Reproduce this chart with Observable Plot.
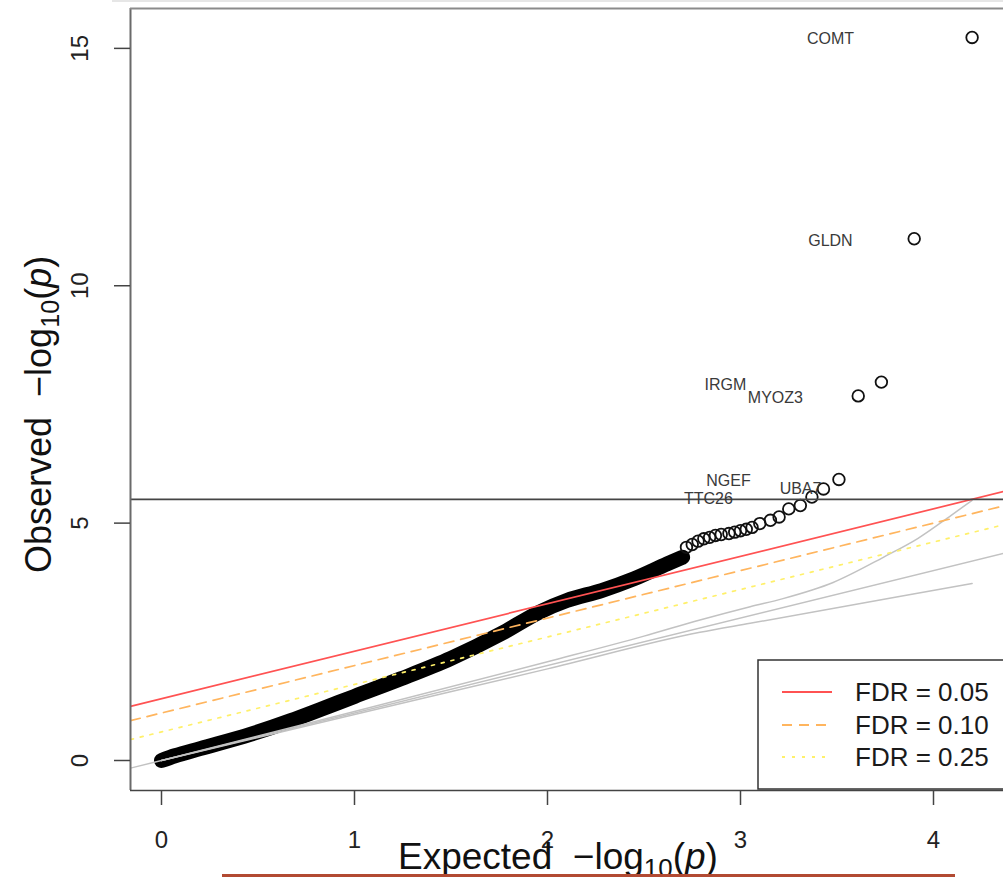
<!DOCTYPE html>
<html>
<head>
<meta charset="utf-8">
<script src="https://cdn.jsdelivr.net/npm/d3@7"></script>
<script src="https://cdn.jsdelivr.net/npm/@observablehq/plot@0.6"></script>
<style>
  html, body { margin: 0; padding: 0; background: #fff; }
  #wrap { position: relative; width: 1003px; height: 878px; overflow: hidden; background: #fff; }
  #wrap svg { display: block; }
  .topline { position: absolute; left: 112px; top: 0; width: 891px; height: 2px; background: #e6e6e6; }
  .bottomline { position: absolute; left: 222px; top: 874px; width: 733px; height: 3px; background: #b24a32; }
</style>
</head>
<body>
<div id="wrap"></div>
<script>
// ---------- data ----------
const xTicks = [0, 1, 2, 3, 4];
const yTicks = [0, 5, 10, 15];

// dense part of the QQ curve (overlapping points form a solid band)
const bandX = [0, 0.07, 0.20, 0.46, 0.67, 0.82, 1.00, 1.24, 1.50, 1.76, 1.96, 2.10, 2.28, 2.45, 2.62, 2.70];
const bandY = [0, 0.10, 0.25, 0.55, 0.84, 1.07, 1.35, 1.72, 2.15, 2.67, 3.13, 3.37, 3.58, 3.83, 4.14, 4.28];

// individually visible points in the tail
const tailX = [2.72, 2.75, 2.78, 2.81, 2.84, 2.87, 2.90, 2.94, 2.97, 3.00, 3.03, 3.06, 3.10, 3.155, 3.20, 3.25, 3.31, 3.37, 3.43, 3.51, 3.61, 3.73, 3.90, 4.20];
const tailY = [4.49, 4.55, 4.62, 4.67, 4.70, 4.74, 4.76, 4.78, 4.81, 4.84, 4.87, 4.91, 4.99, 5.06, 5.13, 5.30, 5.37, 5.55, 5.72, 5.92, 7.68, 7.97, 10.99, 15.23];

// gene labels
const geneNames = ["COMT", "GLDN", "IRGM", "MYOZ3", "NGEF", "UBA7", "TTC26"];
const labelX = [3.466, 3.466, 2.922, 3.181, 2.938, 3.311, 2.834];
const labelY = [15.21, 10.95, 7.92, 7.63, 5.88, 5.73, 5.52];

// confidence band lines
const upperX = [0, 1.0, 2.0, 2.5, 2.79, 3.05, 3.22, 3.48, 3.74, 3.92, 4.09, 4.20];
const upperY = [0, 1.03, 2.08, 2.62, 2.96, 3.24, 3.41, 3.75, 4.28, 4.68, 5.16, 5.48];
const lowerX = [0, 1.0, 2.0, 2.79, 3.05, 4.20];
const lowerY = [0, 0.97, 1.93, 2.70, 2.89, 3.73];

// FDR thresholds
const fdrLevels = [0.05, 0.10, 0.25];
const fdrLabels = ["FDR = 0.05", "FDR = 0.10", "FDR = 0.25"];
const fdrColors = ["#ff5252", "#ffb55e", "#fff06a"];
const fdrDash = [null, "10,7", "3,7"];

// genome-wide threshold
const bonferroni = 5.5;

const xDomain = [-0.1606, 4.3627];
const yDomain = [-0.632, 15.84];

// ---------- tables ----------
const band = bandX.map((x, i) => ({x, y: bandY[i]}));
const tail = tailX.map((x, i) => ({x, y: tailY[i]}));
const labels = geneNames.map((g, i) => ({g, x: labelX[i], y: labelY[i]}));
const upper = upperX.map((x, i) => ({x, y: upperY[i]}));
const lower = lowerX.map((x, i) => ({x, y: lowerY[i]}));
const diag = xDomain.map(x => ({x, y: x}));
const fdrLines = fdrLevels.map(q => xDomain.map(x => ({x, y: x - Math.log10(q)})));

const FONT = "'Liberation Sans', Arial, Helvetica, sans-serif";

const marks = [
  Plot.line(band, {x: "x", y: "y", stroke: "#000", strokeWidth: 15, curve: "monotone-x", strokeLinecap: "round"}),
  Plot.dot(tail, {x: "x", y: "y", r: 5.8, stroke: "#111", strokeWidth: 1.8, fill: "none"}),
  Plot.line(lower, {x: "x", y: "y", stroke: "#c2c2c2", strokeWidth: 1.5, curve: "monotone-x"}),
  Plot.line(upper, {x: "x", y: "y", stroke: "#c2c2c2", strokeWidth: 1.5, curve: "monotone-x"}),
  Plot.line(diag, {x: "x", y: "y", stroke: "#c2c2c2", strokeWidth: 1.5, clip: true}),
  ...fdrLines.map((d, i) => Plot.line(d, {x: "x", y: "y", stroke: fdrColors[i], strokeWidth: 1.7, strokeDasharray: fdrDash[i], clip: true})),
  Plot.ruleY([bonferroni], {stroke: "#444", strokeWidth: 1.8}),
  Plot.text(labels, {x: "x", y: "y", text: "g", fontSize: 16, fill: "#3a3a3a", fontFamily: FONT, textAnchor: "middle"}),
  // frame sides
  Plot.ruleX([xDomain[0]], {stroke: "#6a6a6a", strokeWidth: 2}),
  Plot.ruleY([yDomain[1]], {stroke: "#8a8a8a", strokeWidth: 2}),
  Plot.ruleY([yDomain[0]], {stroke: "#444", strokeWidth: 1.6}),
  // ticks
  Plot.axisX({ticks: xTicks, tickSize: 15, tickFormat: () => "", stroke: "#444", strokeWidth: 1.5, label: null}),
  Plot.axisY({ticks: yTicks, tickSize: 16, tickFormat: () => "", stroke: "#444", strokeWidth: 1.5, label: null}),
  // tick labels
  Plot.text(xTicks, {x: d => d, frameAnchor: "bottom", dy: 50, text: d => String(d), fontSize: 24, fill: "#222", fontFamily: FONT, lineAnchor: "middle"}),
  Plot.text(yTicks, {y: d => d, frameAnchor: "left", dx: -50, rotate: -90, text: d => String(d), fontSize: 24, fill: "#222", fontFamily: FONT, textAnchor: "middle", lineAnchor: "middle"})
];

const svg = Plot.plot({
  width: 1003,
  height: 878,
  marginLeft: 130,
  marginRight: 0,
  marginTop: 8,
  marginBottom: 88,
  x: {domain: xDomain, axis: null},
  y: {domain: yDomain, axis: null},
  style: {fontFamily: FONT, background: "#fff", overflow: "visible"},
  marks
});

const s = d3.select(svg);

// legend
const lg = s.append("g").attr("font-family", FONT).attr("text-anchor", "start");
lg.append("rect").attr("x", 758).attr("y", 660).attr("width", 270).attr("height", 129)
  .attr("fill", "#fff").attr("stroke", "#333").attr("stroke-width", 1.5);
const legendY = [692, 725, 757];
fdrLabels.forEach((t, i) => {
  lg.append("line").attr("x1", 782).attr("x2", 832).attr("y1", legendY[i]).attr("y2", legendY[i])
    .attr("stroke", fdrColors[i]).attr("stroke-width", 1.8)
    .attr("stroke-dasharray", fdrDash[i] || null);
  lg.append("text").attr("x", 855).attr("y", legendY[i]).attr("dy", "0.36em")
    .attr("text-anchor", "start")
    .attr("font-size", 26).attr("fill", "#1a1a1a").text(t);
});

// axis titles with subscript and italic p
function title(g, size) {
  g.append("tspan").text("\u00a0\u00a0\u2212log");
  g.append("tspan").attr("font-size", size * 0.7).attr("dy", size * 0.22).text("10");
  g.append("tspan").attr("dy", -size * 0.22).text("(");
  g.append("tspan").attr("font-style", "italic").text("p");
  g.append("tspan").text(")");
}
const xt = s.append("text").attr("x", 398).attr("y", 869).attr("font-size", 37)
  .attr("text-anchor", "start")
  .attr("font-family", FONT).attr("fill", "#111");
xt.append("tspan").text("Expected");
title(xt, 37);

const yt = s.append("text").attr("transform", "translate(51,573) rotate(-90)").attr("font-size", 36)
  .attr("text-anchor", "start")
  .attr("font-family", FONT).attr("fill", "#111");
yt.append("tspan").text("Observed");
title(yt, 36);

const wrap = document.getElementById("wrap");
wrap.appendChild(svg);
const t1 = document.createElement("div"); t1.className = "topline"; wrap.appendChild(t1);
const t2 = document.createElement("div"); t2.className = "bottomline"; wrap.appendChild(t2);
</script>
</body>
</html>
